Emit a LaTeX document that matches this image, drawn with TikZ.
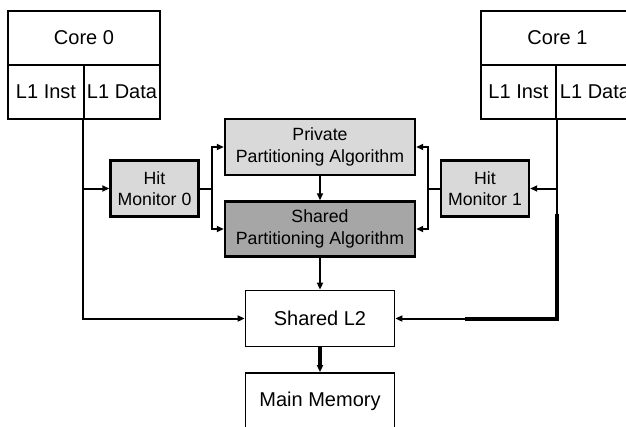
\documentclass[tikz,border=0pt]{standalone}
\usepackage{fontspec}
\setmainfont{Liberation Sans}
\usetikzlibrary{arrows.meta}
\definecolor{lightfill}{HTML}{D9D9D9}
\definecolor{darkfill}{HTML}{A6A6A6}
\tikzset{
  box/.style={draw=black, line width=1.8pt, fill=white, inner sep=0pt,
    font=\fontsize{20}{22}\selectfont, align=center},
  algbox/.style={draw=black, line width=2.4pt, inner sep=0pt,
    font=\fontsize{17.7}{21.5}\selectfont, align=center},
  conn/.style={draw=black, line width=2pt},
  arr/.style={conn, -{Triangle[length=7pt,width=6pt]}},
}
\begin{document}
\begin{tikzpicture}[x=1pt, y=-1pt]
\useasboundingbox (0,0) rectangle (626,426);

% Core 0 with its L1 caches
\node[box, minimum width=152pt, minimum height=54pt] (core0) at (84,38) {Core 0};
\node[box, minimum width=76pt, minimum height=54pt] (l1i0) at (46,92) {L1 Inst};
\node[box, minimum width=76pt, minimum height=54pt] (l1d0) at (122,92) {L1 Data};

% Core 1 with its L1 caches
\node[box, minimum width=153pt, minimum height=54pt] (core1) at (557.5,38) {Core 1};
\node[box, minimum width=75pt, minimum height=54pt] (l1i1) at (518.5,92) {L1 Inst};
\node[box, minimum width=78pt, minimum height=54pt] (l1d1) at (595,92) {L1 Data};

% Hit monitors
\node[algbox, fill=lightfill, minimum width=88pt, minimum height=56pt] (hm0) at (154.5,188.5) {Hit\\Monitor 0};
\node[algbox, fill=lightfill, minimum width=88pt, minimum height=56pt] (hm1) at (485,188.5) {Hit\\Monitor 1};

% Partitioning algorithms
\node[algbox, fill=lightfill, minimum width=190pt, minimum height=56pt] (ppa) at (320,147) {Private\\Partitioning Algorithm};
\node[algbox, fill=darkfill, minimum width=190pt, minimum height=55pt] (spa) at (320,229) {Shared\\Partitioning Algorithm};

% Shared L2 and main memory
\node[box, minimum width=149pt, minimum height=56pt] (l2) at (320,318.5) {Shared L2};
\node[box, minimum width=149pt, minimum height=56pt] (mm) at (320,401) {Main Memory};

% Core 0 side
\coordinate (j0) at (l1d0.south west |- hm0.west);
\draw[arr] (l1d0.south west) |- (l2.west);
\draw[arr] (j0) -- (hm0.west);
\draw[conn] (hm0.east) -- ++(12,0) coordinate (s0);
\draw[arr] (s0) |- (ppa.west);
\draw[arr] (s0) |- (spa.west);

% Core 1 side
\coordinate (j1) at (l1i1.south east |- hm1.east);
\draw[arr] (l1i1.south east) |- (l2.east);
\draw[arr] (j1) -- (hm1.east);
\draw[conn] (hm1.west) -- ++(-12,0) coordinate (s1);
\draw[arr] (s1) |- (ppa.east);
\draw[arr] (s1) |- (spa.east);
% heavier stretch of the Core 1 to L2 path
\coordinate (k1) at (l1i1.south east |- spa.north);
\draw[line width=4pt] ([yshift=-14pt]k1) |- ([xshift=70pt]l2.east);

% Central column
\draw[arr] (ppa) -- (spa);
\draw[arr] (spa) -- (l2);
\draw[arr, line width=3.5pt] (l2) -- (mm);
\end{tikzpicture}
\end{document}
